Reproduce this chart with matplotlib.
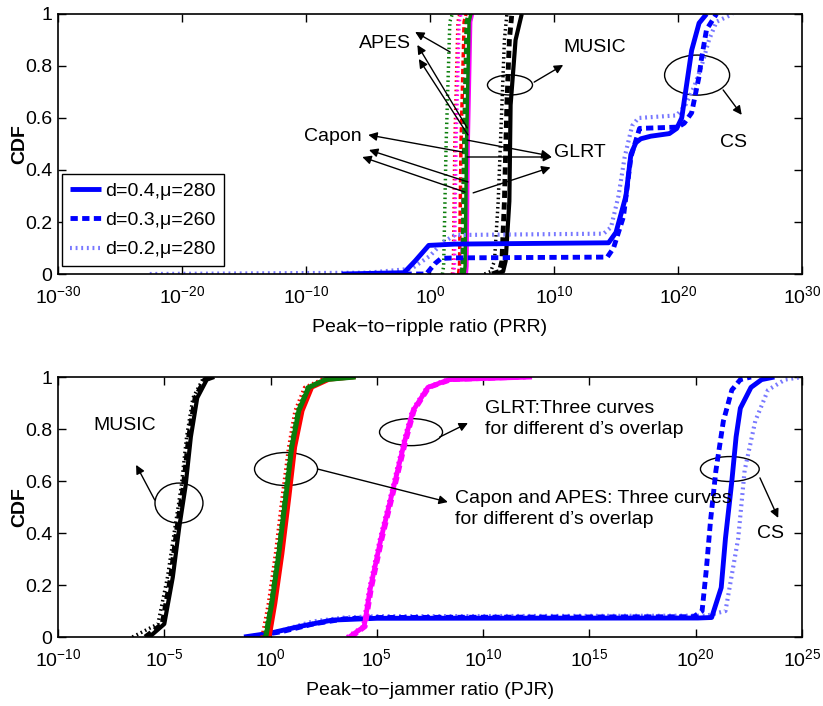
import numpy as np
import matplotlib
matplotlib.use('Agg')
import matplotlib.pyplot as plt
from matplotlib.patches import Ellipse

plt.rcParams['font.family'] = ['Liberation Sans', 'DejaVu Sans']
plt.rcParams['axes.unicode_minus'] = True

# ---------------- data (x given as log10 exponents) ----------------
legend_labels = ['d=0.4,\u03bc=280', 'd=0.3,\u03bc=260', 'd=0.2,\u03bc=280']

# Top: Peak-to-ripple ratio
prr_cs_d4 = [-7.1, -2.1, -1.2, -0.1, 2.0, 14.4, 15.0, 15.8, 16.2, 16.6, 17.0, 17.8, 19.3, 19.9, 20.3, 20.7, 21.1, 21.7, 22.3]
prr_cs_d4_cdf = [0, 0.005, 0.05, 0.11, 0.115, 0.12, 0.16, 0.30, 0.46, 0.505, 0.52, 0.53, 0.54, 0.56, 0.60, 0.73, 0.86, 0.965, 1.0]
prr_cs_d3 = [-3.0, -0.3, 0.4, 0.9, 2.0, 14.3, 14.8, 15.6, 16.2, 16.9, 20.0, 20.5, 21.1, 21.7, 21.9, 22.3, 23.1]
prr_cs_d3_cdf = [0, 0.0, 0.04, 0.06, 0.062, 0.065, 0.10, 0.22, 0.45, 0.56, 0.565, 0.58, 0.62, 0.76, 0.83, 0.94, 1.0]
prr_cs_d2 = [-22.6, -5.0, -1.5, 0.0, 1.0, 2.0, 14.0, 14.6, 15.2, 15.7, 16.3, 16.8, 19.9, 20.6, 21.3, 21.9, 22.5, 23.1, 24.4]
prr_cs_d2_cdf = [0, 0.005, 0.02, 0.07, 0.12, 0.15, 0.155, 0.18, 0.30, 0.45, 0.57, 0.60, 0.61, 0.65, 0.72, 0.80, 0.90, 0.97, 1.0]

prr_music_cdf = [0, 0.01, 0.05, 0.28, 0.65, 0.90, 1.0]
prr_music_d4 = [5.3, 5.9, 6.1, 6.4, 6.5, 6.9, 7.4]
prr_music_d3 = [5.0, 5.6, 5.8, 6.0, 6.2, 6.4, 6.6]
prr_music_d2 = [4.4, 4.9, 5.2, 5.5, 5.8, 6.0, 6.2]

prr_steep_cdf = [0, 0.03, 0.5, 0.97, 1.0]
prr_capon_d4 = [2.8, 2.88, 3.0, 3.2, 3.35]
prr_capon_d3 = [2.3, 2.38, 2.5, 2.75, 2.9]
prr_capon_d2 = [1.8, 1.88, 2.0, 2.25, 2.4]
prr_apes_d4 = [2.75, 2.83, 2.95, 3.15, 3.3]
prr_apes_d3 = [2.55, 2.63, 2.75, 2.95, 3.1]
prr_apes_d2 = [1.0, 1.1, 1.3, 1.6, 1.8]
prr_glrt_d4 = [2.9, 2.95, 3.05, 3.25, 3.4]
prr_glrt_d3 = [2.5, 2.6, 2.75, 3.0, 3.2]
prr_glrt_d2 = [1.9, 1.97, 2.1, 2.35, 2.5]

# Bottom: Peak-to-jammer ratio
pjr_cs_d4 = [-1.25, 0.0, 1.33, 2.9, 5.0, 20.1, 20.75, 21.2, 21.4, 21.7, 21.9, 22.1, 22.6, 23.1, 23.7]
pjr_cs_d4_cdf = [0, 0.015, 0.04, 0.065, 0.072, 0.073, 0.075, 0.19, 0.38, 0.60, 0.77, 0.88, 0.96, 0.99, 1.0]
pjr_cs_d3 = [-1.0, 0.5, 2.0, 3.5, 5.0, 19.9, 20.3, 20.5, 20.7, 20.95, 21.3, 21.7, 22.1, 22.6]
pjr_cs_d3_cdf = [0, 0.02, 0.05, 0.07, 0.075, 0.078, 0.10, 0.26, 0.45, 0.64, 0.83, 0.95, 0.99, 1.0]
pjr_cs_d2 = [-1.0, 0.5, 2.0, 3.5, 5.0, 20.5, 21.4, 22.0, 22.3, 22.8, 23.4, 24.2, 25.0]
pjr_cs_d2_cdf = [0, 0.025, 0.06, 0.075, 0.08, 0.082, 0.10, 0.38, 0.64, 0.83, 0.95, 0.99, 1.0]

pjr_music_cdf = [0, 0.05, 0.23, 0.42, 0.58, 0.77, 0.92, 0.99, 1.0]
pjr_music_d4 = [-5.7, -5.0, -4.6, -4.3, -4.0, -3.75, -3.45, -3.0, -2.65]
pjr_music_d3 = [-5.9, -5.1, -4.7, -4.4, -4.1, -3.85, -3.55, -3.1, -2.8]
pjr_music_d2 = [-6.5, -5.3, -4.85, -4.5, -4.2, -3.95, -3.65, -3.2, -2.9]

pjr_ca_cdf = [0, 0.13, 0.32, 0.54, 0.73, 0.87, 0.96, 0.99, 1.0]
pjr_apes_d4 = [-0.22, 0.06, 0.39, 0.72, 1.0, 1.33, 1.8, 2.6, 4.0]
pjr_apes_d3 = [-0.25, 0.03, 0.36, 0.69, 0.97, 1.3, 1.77, 2.55, 3.9]
pjr_apes_d2 = [-0.3, 0.0, 0.32, 0.65, 0.93, 1.25, 1.72, 2.5, 3.8]
pjr_capon_d4 = [-0.05, 0.22, 0.55, 0.88, 1.15, 1.5, 1.95, 2.75, 4.0]
pjr_capon_d3 = [-0.2, 0.1, 0.42, 0.75, 1.03, 1.36, 1.83, 2.6, 3.95]
pjr_capon_d2 = [-0.4, -0.1, 0.23, 0.55, 0.85, 1.15, 1.6, 2.4, 3.8]

pjr_glrt_cdf = [0, 0.04, 0.19, 0.38, 0.58, 0.75, 0.87, 0.96, 0.99, 1.0]
pjr_glrt_d4 = [3.7, 4.4, 4.7, 5.2, 5.8, 6.3, 6.7, 7.4, 8.4, 12.3]
pjr_glrt_d3 = [3.8, 4.45, 4.75, 5.25, 5.85, 6.35, 6.75, 7.45, 8.5, 12.0]
pjr_glrt_d2 = [3.6, 4.35, 4.65, 5.15, 5.75, 6.25, 6.65, 7.35, 8.3, 11.8]

prr_ticks = [-30, -20, -10, 0, 10, 20, 30]
pjr_ticks = [-10, -5, 0, 5, 10, 15, 20, 25]
cdf_ticks = [0, 0.2, 0.4, 0.6, 0.8, 1]
cdf_ticklabels = ['0', '0.2', '0.4', '0.6', '0.8', '1']

# ---------------- styles ----------------
BLUE = '#0000ff'
LBLUE = '#7878ff'
RED = '#ff0000'
GREEN = '#0a7d0a'
MAG = '#ff00ff'
DASH = (0, (1.5, 0.9))
DOT = (0, (0.45, 0.9))

FS = 14

fig = plt.figure(figsize=(8.23, 7.06), dpi=100)
ax1 = fig.add_axes([58/823, 1-274/706, 744/823, 260/706])
ax2 = fig.add_axes([58/823, 1-637/706, 744/823, 260/706])


def e(v):
    return 10.0 ** np.asarray(v, dtype=float)


def cdfplot(ax, xs, ys, color, style, lw, **kw):
    return ax.plot(e(xs), ys, color=color, linestyle=style, lw=lw,
                   solid_capstyle='butt', dash_capstyle='butt', **kw)[0]

# ---- top axes ----
for xs, c, ls, lw in [(prr_capon_d2, RED, DOT, 2.5), (prr_capon_d3, RED, DASH, 2.5), (prr_capon_d4, RED, '-', 2.0),
                      (prr_glrt_d2, MAG, DOT, 2.5), (prr_glrt_d3, MAG, DASH, 3.0), (prr_glrt_d4, MAG, '-', 3.0),
                      (prr_apes_d2, GREEN, DOT, 2.5), (prr_apes_d3, GREEN, DASH, 3.0), (prr_apes_d4, GREEN, '-', 2.5)]:
    cdfplot(ax1, xs, prr_steep_cdf, c, ls, lw)

cdfplot(ax1, prr_music_d2, prr_music_cdf, 'black', DOT, 2.5)
cdfplot(ax1, prr_music_d3, prr_music_cdf, 'black', DASH, 3.5)
cdfplot(ax1, prr_music_d4, prr_music_cdf, 'black', '-', 3.0)

h2 = cdfplot(ax1, prr_cs_d2, prr_cs_d2_cdf, LBLUE, DOT, 3.0, label=legend_labels[2])
h3 = cdfplot(ax1, prr_cs_d3, prr_cs_d3_cdf, BLUE, DASH, 3.5, label=legend_labels[1])
h4 = cdfplot(ax1, prr_cs_d4, prr_cs_d4_cdf, BLUE, '-', 3.5, label=legend_labels[0])

# ---- bottom axes ----
cdfplot(ax2, pjr_cs_d2, pjr_cs_d2_cdf, LBLUE, DOT, 3.0)
cdfplot(ax2, pjr_cs_d3, pjr_cs_d3_cdf, BLUE, DASH, 3.5)
cdfplot(ax2, pjr_cs_d4, pjr_cs_d4_cdf, BLUE, '-', 3.5)

cdfplot(ax2, pjr_music_d2, pjr_music_cdf, 'black', DOT, 2.5)
cdfplot(ax2, pjr_music_d3, pjr_music_cdf, 'black', DASH, 3.5)
cdfplot(ax2, pjr_music_d4, pjr_music_cdf, 'black', '-', 3.0)

cdfplot(ax2, pjr_capon_d2, pjr_ca_cdf, RED, DOT, 2.5)
cdfplot(ax2, pjr_capon_d3, pjr_ca_cdf, RED, DASH, 2.5)
cdfplot(ax2, pjr_capon_d4, pjr_ca_cdf, RED, '-', 3.0)
cdfplot(ax2, pjr_apes_d2, pjr_ca_cdf, GREEN, DOT, 2.5)
cdfplot(ax2, pjr_apes_d3, pjr_ca_cdf, GREEN, DASH, 3.0)
cdfplot(ax2, pjr_apes_d4, pjr_ca_cdf, GREEN, '-', 3.5)

cdfplot(ax2, pjr_glrt_d2, pjr_glrt_cdf, MAG, DOT, 3.0)
cdfplot(ax2, pjr_glrt_d3, pjr_glrt_cdf, MAG, DASH, 3.5)
cdfplot(ax2, pjr_glrt_d4, pjr_glrt_cdf, MAG, '-', 3.5)

# ---- axes formatting ----
for ax, ticks, xlabel in [(ax1, prr_ticks, 'Peak\u2212to\u2212ripple ratio (PRR)'),
                          (ax2, pjr_ticks, 'Peak\u2212to\u2212jammer ratio (PJR)')]:
    ax.set_xscale('log')
    ax.set_xlim(e(ticks[0]), e(ticks[-1]))
    ax.set_ylim(0, 1)
    ax.set_xticks(e(ticks))
    ax.set_xticks([], minor=True)
    ax.set_xticklabels([r'$\mathdefault{10^{%d}}$' % t for t in ticks])
    ax.set_yticks(cdf_ticks)
    ax.set_yticklabels(cdf_ticklabels)
    ax.tick_params(axis='both', which='major', direction='in', length=6, width=1.0,
                   top=True, right=True, labelsize=FS)
    ax.tick_params(axis='x', pad=8)
    ax.tick_params(axis='y', pad=4)
    ax.tick_params(which='minor', length=0)
    for s in ax.spines.values():
        s.set_linewidth(1.2)
    ax.set_xlabel(xlabel, fontsize=FS)
    ax.xaxis.set_label_coords(0.5, -0.173)
    ax.set_ylabel('CDF', fontsize=14, fontweight='bold', va='center')
    ax.yaxis.set_label_coords(-38 / 744, 0.5)

leg = ax1.legend(handles=[h4, h3, h2], loc='lower left', bbox_to_anchor=(0.006, 0.03),
                 borderaxespad=0, fontsize=FS, frameon=True, fancybox=False,
                 edgecolor='black', framealpha=1, handlelength=1.6, handletextpad=0.2,
                 labelspacing=0.6, borderpad=0.4)
leg.get_frame().set_linewidth(1.0)

# ---- annotations ----
def arrow(ax, tail, head):
    ax.annotate('', xy=head, xytext=tail, xycoords='axes fraction', textcoords='axes fraction',
                arrowprops=dict(arrowstyle='-|>', color='black', lw=1.0, mutation_scale=13,
                                shrinkA=0, shrinkB=0))


def ell(ax, center, w, h):
    ax.add_patch(Ellipse(center, w, h, transform=ax.transAxes, fill=False,
                         edgecolor='black', lw=1.0))


def txt(ax, pos, s, ha='center', va='center'):
    ax.text(pos[0], pos[1], s, transform=ax.transAxes, fontsize=FS, ha=ha, va=va, linespacing=1.3)

# top
txt(ax1, (0.4395, 0.888), 'APES')
arrow(ax1, (0.527, 0.854), (0.480, 0.931))
arrow(ax1, (0.550, 0.562), (0.483, 0.881))
arrow(ax1, (0.551, 0.535), (0.485, 0.827))
txt(ax1, (0.3696, 0.527), 'Capon')
arrow(ax1, (0.544, 0.469), (0.417, 0.535))
arrow(ax1, (0.551, 0.354), (0.418, 0.477))
arrow(ax1, (0.547, 0.315), (0.409, 0.450))
txt(ax1, (0.7016, 0.469), 'GLRT')
arrow(ax1, (0.550, 0.515), (0.662, 0.454))
arrow(ax1, (0.550, 0.450), (0.664, 0.450))
arrow(ax1, (0.558, 0.312), (0.662, 0.410))
txt(ax1, (0.7218, 0.873), 'MUSIC')
ell(ax1, (0.6075, 0.727), 0.0605, 0.077)
arrow(ax1, (0.640, 0.738), (0.679, 0.804))
txt(ax1, (0.9086, 0.504), 'CS')
ell(ax1, (0.859, 0.765), 0.0874, 0.154)
arrow(ax1, (0.894, 0.708), (0.919, 0.612))

# bottom
txt(ax2, (0.090, 0.815), 'MUSIC')
ell(ax2, (0.1626, 0.515), 0.0645, 0.154)
arrow(ax2, (0.130, 0.527), (0.105, 0.662))
ell(ax2, (0.3065, 0.646), 0.0847, 0.127)
arrow(ax2, (0.349, 0.646), (0.524, 0.519))
txt(ax2, (0.5336, 0.492), 'Capon and APES: Three curves\nfor different d\u2019s overlap', ha='left')
ell(ax2, (0.4745, 0.788), 0.0847, 0.104)
arrow(ax2, (0.513, 0.769), (0.551, 0.823))
txt(ax2, (0.574, 0.840), 'GLRT:Three curves\nfor different d\u2019s overlap', ha='left')
ell(ax2, (0.903, 0.646), 0.079, 0.096)
arrow(ax2, (0.9435, 0.612), (0.968, 0.458))
txt(ax2, (0.957, 0.400), 'CS')

fig.savefig('out.png', dpi=100)
